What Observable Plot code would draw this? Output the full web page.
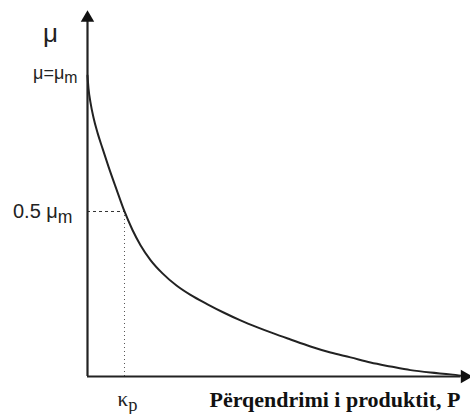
<!DOCTYPE html>
<html>
<head>
<meta charset="utf-8">
<script src="https://cdn.jsdelivr.net/npm/d3@7"></script>
<script src="https://cdn.jsdelivr.net/npm/@observablehq/plot@0.6"></script>
<style>
  body { margin: 0; background: #fff; }
  #chart svg { display: block; }
</style>
</head>
<body>
<div id="chart"></div>
<script>
// Product concentration P (arbitrary units) and specific growth rate μ (fraction of μm)
const P  = [0, 0.026, 0.079, 0.157, 0.262, 0.394, 0.551, 0.761, 0.971, 1.181, 1.391, 1.654, 1.969, 2.336, 2.703, 3.150, 3.570, 4.016, 4.462, 4.882, 5.328, 5.853, 6.378, 6.903, 7.428, 7.953, 8.478, 9.003, 9.528, 9.843];
const mu = [0.992, 0.950, 0.903, 0.854, 0.804, 0.752, 0.692, 0.617, 0.544, 0.483, 0.433, 0.384, 0.340, 0.300, 0.269, 0.238, 0.211, 0.185, 0.162, 0.142, 0.122, 0.099, 0.079, 0.063, 0.046, 0.033, 0.021, 0.013, 0.007, 0.002];

const Kp = 0.971;         // product inhibition constant
const halfMu = 0.544;     // level 0.5 μm
const muMax = 1.0;        // μm
const xMax = 10, yMax = 1.2;

// "_x" marks a subscript
const yTickValues = [muMax, halfMu];
const yTickLabels = ["μ=μ_m", "0.5 μ_m"];
const xTickValues = [Kp];
const xTickLabels = ["κ_p"];
const xTitle = "Përqendrimi i produktit, P";
const yTitle = "μ";

const curve = P.map((p, i) => ({P: p, mu: mu[i]}));
const yTicks = yTickValues.map((v, i) => ({v, label: yTickLabels[i]}));
const xTicks = xTickValues.map((v, i) => ({v, label: xTickLabels[i]}));

const chart = Plot.plot({
  width: 470,
  height: 414,
  marginLeft: 87,
  marginRight: 2,
  marginTop: 12,
  marginBottom: 38,
  x: {domain: [0, xMax], axis: null},
  y: {domain: [0, yMax], axis: null},
  style: {background: "#fff"},
  marks: [
    // guide lines
    Plot.ruleY([halfMu], {x1: 0, x2: Kp, stroke: "#333", strokeWidth: 1, strokeDasharray: "3,3"}),
    Plot.ruleX([Kp], {y1: 0, y2: halfMu, stroke: "#555", strokeWidth: 1, strokeDasharray: "1,3"}),
    // the curve
    Plot.line(curve, {x: "P", y: "mu", curve: "monotone-x", stroke: "#222", strokeWidth: 2}),
    // axes
    Plot.ruleX([0], {y1: 0, y2: yMax - 0.03, stroke: "#222", strokeWidth: 2.2}),
    Plot.ruleY([0], {x1: 0, x2: xMax - 0.2, stroke: "#222", strokeWidth: 2.2}),
    Plot.dot([{x: 0, y: yMax - 0.018}], {x: "x", y: "y", symbol: "triangle", r: 5, fill: "#111", stroke: null}),
    Plot.dot([{x: xMax - 0.1, y: 0}], {x: "x", y: "y", symbol: "triangle", r: 5, fill: "#111", stroke: null, rotate: 90}),
    // y tick labels
    Plot.text([yTicks[0]], {x: 0, y: "v", text: "label", textAnchor: "end", dx: -10, fontSize: 18, fontFamily: "Liberation Sans, Arial, sans-serif", fill: "#222"}),
    Plot.text([yTicks[1]], {x: 0, y: "v", text: "label", textAnchor: "end", dx: -15, fontSize: 20, fontFamily: "Liberation Sans, Arial, sans-serif", fill: "#222"}),
    // x tick labels
    Plot.text(xTicks, {x: "v", y: 0, text: "label", dx: 3, dy: 23, fontSize: 21, fontFamily: "Liberation Serif, serif", fill: "#222"}),
    // titles
    Plot.text([yTitle], {x: 0, y: 1.13, text: d => d, dx: -37, fontSize: 26, fontFamily: "Liberation Sans, Arial, sans-serif", fill: "#222"}),
    Plot.text([xTitle], {x: xMax, y: 0, text: d => d, textAnchor: "end", dx: -8, dy: 23, fontSize: 22, fontWeight: "bold", fontFamily: "Liberation Serif, Times New Roman, serif", fill: "#111"})
  ]
});

// turn "_x" into real subscripts
chart.querySelectorAll("text").forEach(t => {
  const s = t.textContent;
  if (!s.includes("_")) return;
  const [base, sub] = s.split("_");
  t.textContent = "";
  t.appendChild(document.createTextNode(base));
  const ts = document.createElementNS("http://www.w3.org/2000/svg", "tspan");
  ts.setAttribute("font-size", "0.88em");
  ts.setAttribute("dy", "0.28em");
  ts.textContent = sub;
  t.appendChild(ts);
});

document.getElementById("chart").appendChild(chart);
</script>
</body>
</html>
